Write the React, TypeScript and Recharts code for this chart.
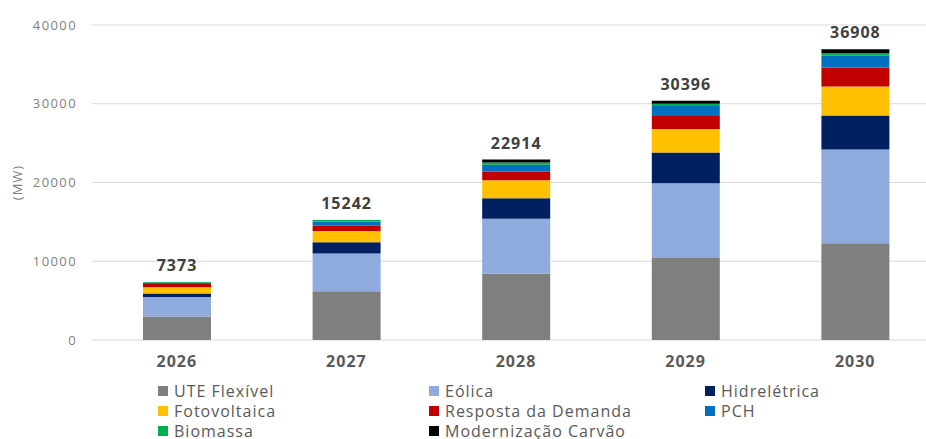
import { BarChart, Bar, XAxis, YAxis, CartesianGrid, Legend, LabelList } from "recharts"

// Anos e valores por fonte (MW)
const years = ["2026", "2027", "2028", "2029", "2030"]
const uteFlexivel = [3000, 6200, 8400, 10400, 12300]
const eolica = [2450, 4800, 7000, 9500, 11900]
const hidreletrica = [450, 1400, 2600, 3900, 4300]
const fotovoltaica = [800, 1450, 2300, 3000, 3700]
const respostaDemanda = [400, 650, 1100, 1650, 2400]
const pch = [170, 550, 850, 1250, 1500]
const biomassa = [103, 192, 300, 300, 350]
const modernizacaoCarvao = [0, 0, 364, 396, 458]
const totals = [7373, 15242, 22914, 30396, 36908]
const yTicks = [0, 10000, 20000, 30000, 40000]

const SERIES = [
  { key: "ute", name: "UTE Flexível", values: uteFlexivel, color: "#7f7f7f" },
  { key: "eol", name: "Eólica", values: eolica, color: "#8faadc" },
  { key: "hid", name: "Hidrelétrica", values: hidreletrica, color: "#002060" },
  { key: "fot", name: "Fotovoltaica", values: fotovoltaica, color: "#ffc000" },
  { key: "res", name: "Resposta da Demanda", values: respostaDemanda, color: "#c00000" },
  { key: "pch", name: "PCH", values: pch, color: "#0070c0" },
  { key: "bio", name: "Biomassa", values: biomassa, color: "#00b050" },
  { key: "car", name: "Modernização Carvão", values: modernizacaoCarvao, color: "#000000" },
]

const data = years.map((year, i) => {
  const row: Record<string, string | number> = { year, total: totals[i] }
  SERIES.forEach((s) => {
    row[s.key] = s.values[i]
    // topmost non-zero series carries the total label
    if (s.values[i] > 0) row.top = s.key
  })
  return row
})

const FONT = "'Open Sans', sans-serif"

function LegendGrid() {
  return (
    <div
      style={{
        display: "grid",
        gridTemplateColumns: "271px 276px 200px",
        gridAutoRows: "20px",
        paddingLeft: 158,
        fontFamily: FONT,
        fontSize: 16,
        lineHeight: "16px",
        letterSpacing: 1,
        color: "#595959",
      }}
    >
      {SERIES.map((s) => (
        <div key={s.key} style={{ display: "flex", alignItems: "center", height: 20 }}>
          <span style={{ width: 10, height: 10, background: s.color, marginRight: 6, flexShrink: 0 }} />
          <span>{s.name}</span>
        </div>
      ))}
    </div>
  )
}

function TotalLabel(p: any) {
  if (p.value == null) return null
  return (
    <text
      x={p.x + p.width / 2}
      y={p.y - 11}
      textAnchor="middle"
      fill="#404040"
      fontSize={16}
      fontWeight={700}
      letterSpacing={1}
      fontFamily={FONT}
    >
      {p.value}
    </text>
  )
}

export default function App() {
  return (
    <div
      style={{
        position: "fixed",
        left: 0,
        top: 0,
        width: 926,
        height: 439,
        overflow: "hidden",
        background: "#fff",
      }}
    >
      <BarChart
        width={940}
        height={439}
        data={data}
        margin={{ top: 25, right: 0, left: 0, bottom: 69 }}
        barSize={68}
        style={{ fontFamily: FONT }}
      >
        <CartesianGrid vertical={false} stroke="#d9d9d9" />
        <XAxis
          dataKey="year"
          height={30}
          axisLine={false}
          tickLine={false}
          tickSize={0}
          tickMargin={16}
          tick={{ fill: "#595959", fontSize: 16, fontWeight: 700, letterSpacing: 1 }}
        />
        <YAxis
          width={92}
          domain={[0, 40000]}
          ticks={yTicks}
          axisLine={false}
          tickLine={false}
          tickSize={0}
          tickMargin={15}
          tick={{ fill: "#7f7f7f", fontSize: 13, letterSpacing: 1.4 }}
          label={{
            value: "(MW)",
            angle: -90,
            position: "insideLeft",
            offset: 17,
            style: { textAnchor: "middle", fill: "#7f7f7f", fontSize: 13, letterSpacing: 1 },
          }}
        />
        <Legend
          layout="horizontal"
          verticalAlign="middle"
          align="center"
          wrapperStyle={{ top: 381, left: 0, width: 926 }}
          content={<LegendGrid />}
        />
        {SERIES.map((s) => (
          <Bar key={s.key} dataKey={s.key} name={s.name} stackId="a" fill={s.color} isAnimationActive={false}>
            <LabelList
              dataKey={(row: any) => (row.top === s.key ? row.total : null)}
              content={<TotalLabel />}
            />
          </Bar>
        ))}
      </BarChart>
    </div>
  )
}
